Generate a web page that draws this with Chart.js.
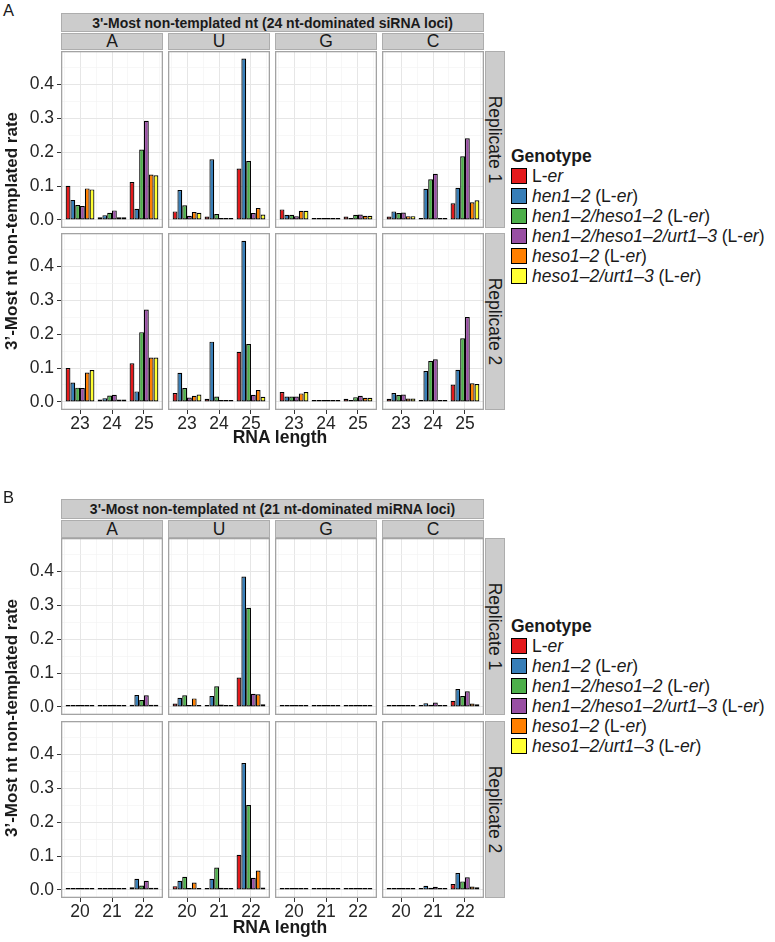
<!DOCTYPE html>
<html>
<head>
<meta charset="utf-8">
<script src="https://cdn.jsdelivr.net/npm/chart.js@4.4.1/dist/chart.umd.min.js"></script>
<style>
  body { margin: 0; background: #fff; font-family: 'Liberation Sans', Arial, sans-serif; color: #1a1a1a; }
  #page { position: relative; width: 775px; height: 942px; overflow: hidden; }
  #page canvas { position: absolute; }
  .strip { position: absolute; box-sizing: border-box; background: #cccccc; border: 1px solid #adadad;
           display: flex; align-items: center; justify-content: center; white-space: nowrap; }
  .strip span.rot { display: inline-block; transform: rotate(90deg); }
  .txt { position: absolute; white-space: nowrap; }
  .legend { position: absolute; font-size: 17.5px; }
  .legend .ttl { font-weight: bold; height: 20px; line-height: 20px; }
  .legend .row { display: flex; align-items: center; height: 20px; line-height: 20px; }
  .legend .key { width: 14px; height: 14px; border: 1.5px solid #000; margin-right: 5px; }
</style>
</head>
<body>
<div id="page"></div>
<script>
// ---- data ----
const genotypes = ['L-er', 'hen1-2 (L-er)', 'hen1-2/heso1-2 (L-er)', 'hen1-2/heso1-2/urt1-3 (L-er)', 'heso1-2 (L-er)', 'heso1-2/urt1-3 (L-er)'];
const genotypeHtml = [
  'L-<i>er</i>',
  '<i>hen1\u20132</i> (L-<i>er</i>)',
  '<i>hen1\u20132/heso1\u20132</i> (L-<i>er</i>)',
  '<i>hen1\u20132/heso1\u20132/urt1\u20133</i> (L-<i>er</i>)',
  '<i>heso1\u20132</i> (L-<i>er</i>)',
  '<i>heso1\u20132/urt1\u20133</i> (L-<i>er</i>)'
];
const genotypeColors = ['#E41A1C', '#377EB8', '#4DAF4A', '#984EA3', '#FF7F00', '#FFFF33'];
const nucleotides = ['A', 'U', 'G', 'C'];
const replicates = ['Replicate 1', 'Replicate 2'];
const siLengths = [23, 24, 25];
const miLengths = [20, 21, 22];
const yTicks = [0, 0.1, 0.2, 0.3, 0.4];
const yMinorTicks = [0.05, 0.15, 0.25, 0.35, 0.45];

// rows = genotypes (same order as above), columns = RNA lengths
// 24 nt-dominated siRNA loci
const siRep1A = [[0.101, 0.008, 0.112], [0.059, 0.014, 0.033], [0.044, 0.021, 0.208], [0.041, 0.028, 0.293], [0.093, 0.008, 0.134], [0.090, 0.008, 0.132]];
const siRep1U = [[0.025, 0.010, 0.152], [0.088, 0.179, 0.477], [0.043, 0.017, 0.174], [0.012, 0.004, 0.020], [0.023, 0.003, 0.035], [0.021, 0.003, 0.016]];
const siRep1G = [[0.031, 0.002, 0.010], [0.015, 0.002, 0.003], [0.015, 0.002, 0.015], [0.011, 0.002, 0.016], [0.027, 0.002, 0.012], [0.027, 0.002, 0.012]];
const siRep1C = [[0.010, 0.004, 0.049], [0.025, 0.092, 0.095], [0.020, 0.120, 0.188], [0.022, 0.136, 0.241], [0.011, 0.004, 0.052], [0.011, 0.004, 0.058]];
const siRep2A = [[0.100, 0.007, 0.114], [0.057, 0.011, 0.031], [0.042, 0.019, 0.206], [0.041, 0.021, 0.273], [0.087, 0.007, 0.131], [0.094, 0.007, 0.131]];
const siRep2U = [[0.026, 0.009, 0.148], [0.086, 0.178, 0.476], [0.041, 0.016, 0.171], [0.013, 0.003, 0.021], [0.018, 0.003, 0.035], [0.022, 0.003, 0.015]];
const siRep2G = [[0.029, 0.002, 0.009], [0.016, 0.002, 0.004], [0.016, 0.002, 0.014], [0.016, 0.002, 0.018], [0.025, 0.002, 0.012], [0.029, 0.002, 0.012]];
const siRep2C = [[0.009, 0.004, 0.051], [0.026, 0.091, 0.095], [0.020, 0.121, 0.188], [0.022, 0.126, 0.251], [0.010, 0.003, 0.055], [0.010, 0.003, 0.053]];
// 21 nt-dominated miRNA loci
const miRep1A = [[0.001, 0.001, 0.006], [0.002, 0.002, 0.035], [0.002, 0.003, 0.020], [0.004, 0.006, 0.034], [0.003, 0.002, 0.006], [0.001, 0.001, 0.006]];
const miRep1U = [[0.010, 0.002, 0.087], [0.027, 0.032, 0.385], [0.034, 0.061, 0.293], [0.001, 0.007, 0.039], [0.025, 0.003, 0.037], [0.002, 0.002, 0.008]];
const miRep1G = [[0.001, 0.001, 0.001], [0.001, 0.001, 0.002], [0.001, 0.001, 0.001], [0.001, 0.001, 0.002], [0.001, 0.001, 0.001], [0.001, 0.001, 0.001]];
const miRep1C = [[0.001, 0.001, 0.018], [0.001, 0.011, 0.053], [0.001, 0.006, 0.032], [0.001, 0.013, 0.046], [0.001, 0.001, 0.010], [0.001, 0.001, 0.008]];
const miRep2A = [[0.002, 0.002, 0.008], [0.002, 0.002, 0.033], [0.002, 0.002, 0.013], [0.002, 0.003, 0.027], [0.002, 0.002, 0.006], [0.001, 0.001, 0.006]];
const miRep2U = [[0.011, 0.003, 0.104], [0.027, 0.033, 0.375], [0.039, 0.066, 0.251], [0.003, 0.006, 0.036], [0.022, 0.003, 0.057], [0.003, 0.002, 0.007]];
const miRep2G = [[0.001, 0.001, 0.001], [0.001, 0.001, 0.002], [0.001, 0.001, 0.001], [0.001, 0.001, 0.002], [0.001, 0.001, 0.001], [0.001, 0.001, 0.001]];
const miRep2C = [[0.001, 0.002, 0.017], [0.001, 0.012, 0.050], [0.001, 0.006, 0.025], [0.001, 0.009, 0.037], [0.001, 0.001, 0.010], [0.001, 0.001, 0.008]];

// ---- layout ----
Chart.defaults.font.family = "'Liberation Sans', Arial, sans-serif";
Chart.defaults.color = '#262626';

const colLeft = [61, 168, 275, 382];
const colW = 102;
const rowH = 177;
const yAxisW = 61;
const xAxisH = 26;
const yMin = -0.024, yMax = 0.499;

const panels = [
  { tag: 'A', tagTop: 2, title: "3'-Most non-templated nt (24 nt-dominated siRNA loci)",
    stripTop: 13, stripH: 19, colStripTop: 33, colStripH: 17, rowTops: [51, 233],
    xTitleY: 437, legendTop: 146, lengths: siLengths,
    values: [[siRep1A, siRep1U, siRep1G, siRep1C], [siRep2A, siRep2U, siRep2G, siRep2C]] },
  { tag: 'B', tagTop: 489, title: "3'-Most non-templated nt (21 nt-dominated miRNA loci)",
    stripTop: 499, stripH: 20, colStripTop: 520, colStripH: 18, rowTops: [538, 721],
    xTitleY: 927, legendTop: 616, lengths: miLengths,
    values: [[miRep1A, miRep1U, miRep1G, miRep1C], [miRep2A, miRep2U, miRep2G, miRep2C]] }
];

const panelBorder = {
  id: 'panelBorder',
  afterDraw(chart) {
    const { ctx, chartArea: a } = chart;
    ctx.save();
    ctx.strokeStyle = '#a3a3a3';
    ctx.lineWidth = 1.3;
    ctx.strokeRect(a.left + 0.65, a.top + 0.65, a.width - 1.3, a.height - 1.3);
    ctx.restore();
  }
};

const page = document.getElementById('page');

function addDiv(cls, style, html) {
  const d = document.createElement('div');
  d.className = cls;
  Object.assign(d.style, style);
  d.innerHTML = html;
  page.appendChild(d);
  return d;
}

function makeCell(vals, lengths, left, top, width, height, yw, xh) {
  const cv = document.createElement('canvas');
  cv.width = width;
  cv.height = height;
  cv.style.left = left + 'px';
  cv.style.top = top + 'px';
  page.appendChild(cv);

  const last = lengths[lengths.length - 1];
  const xMin = lengths[0] - 0.595, xMax = last + 0.595;
  const xMinorTicks = lengths.map(v => v - 0.5).concat([last + 0.5]);

  new Chart(cv, {
    type: 'bar',
    data: {
      datasets: genotypes.map((g, i) => ({
        label: g,
        data: lengths.map((len, j) => ({ x: len, y: vals[i][j] })),
        backgroundColor: genotypeColors[i],
        borderColor: '#000',
        borderWidth: 1.2,
        borderSkipped: false,
        categoryPercentage: 0.9,
        barPercentage: 1,
        minBarLength: 2
      }))
    },
    options: {
      responsive: false,
      animation: false,
      events: [],
      layout: { padding: 0 },
      plugins: { legend: { display: false }, tooltip: { enabled: false } },
      scales: {
        x: {
          type: 'linear', min: xMin, max: xMax, offset: false,
          afterBuildTicks: s => { s.ticks = lengths.map(v => ({ value: v })); },
          afterFit: s => { s.height = xh; s.paddingLeft = 0; s.paddingRight = 0; },
          ticks: { display: xh > 0, font: { size: 17.5 }, padding: 0, maxRotation: 0, autoSkip: false, callback: v => String(v) },
          grid: { offset: false, color: '#e6e6e6', lineWidth: 1, drawTicks: xh > 0, tickLength: 4, tickColor: '#333' },
          border: { display: false }
        },
        xMinor: {
          type: 'linear', axis: 'x', position: 'bottom', min: xMin, max: xMax, offset: false,
          afterBuildTicks: s => { s.ticks = xMinorTicks.map(v => ({ value: v })); },
          afterFit: s => { s.height = 0; s.paddingLeft = 0; s.paddingRight = 0; },
          ticks: { display: false },
          grid: { offset: false, color: '#f1f1f1', lineWidth: 0.6, drawTicks: false },
          border: { display: false }
        },
        y: {
          type: 'linear', min: yMin, max: yMax,
          afterBuildTicks: s => { s.ticks = yTicks.map(v => ({ value: v })); },
          afterFit: s => { s.width = yw; s.paddingTop = 0; s.paddingBottom = 0; },
          ticks: { display: yw > 0, font: { size: 17.5 }, padding: 3, callback: v => v.toFixed(1) },
          grid: { color: '#e6e6e6', lineWidth: 1, drawTicks: yw > 0, tickLength: 4, tickColor: '#333' },
          border: { display: false }
        },
        yMinor: {
          type: 'linear', axis: 'y', position: 'left', min: yMin, max: yMax,
          afterBuildTicks: s => { s.ticks = yMinorTicks.map(v => ({ value: v })); },
          afterFit: s => { s.width = 0; s.paddingTop = 0; s.paddingBottom = 0; },
          ticks: { display: false },
          grid: { color: '#f1f1f1', lineWidth: 0.6, drawTicks: false },
          border: { display: false }
        }
      }
    },
    plugins: [panelBorder]
  });
}

panels.forEach(p => {
  addDiv('txt', { left: '3px', top: p.tagTop + 'px', fontSize: '16.5px', lineHeight: '16px' }, p.tag);

  // facet strips
  const right = colLeft[3] + colW;
  addDiv('strip', { left: colLeft[0] + 'px', top: p.stripTop + 'px', width: (right - colLeft[0]) + 'px', height: p.stripH + 'px',
    fontSize: '14px', fontWeight: 'bold' }, p.title);
  nucleotides.forEach((n, c) => {
    addDiv('strip', { left: colLeft[c] + 'px', top: p.colStripTop + 'px', width: colW + 'px', height: p.colStripH + 'px',
      fontSize: '17.5px' }, n);
  });
  replicates.forEach((r, ri) => {
    addDiv('strip', { left: (right + 1) + 'px', top: p.rowTops[ri] + 'px', width: '20px', height: rowH + 'px',
      fontSize: '17.5px' }, '<span class="rot">' + r + '</span>');
  });

  // panels
  p.rowTops.forEach((rt, ri) => {
    nucleotides.forEach((n, c) => {
      const yw = c === 0 ? yAxisW : 0;
      const xh = ri === p.rowTops.length - 1 ? xAxisH : 0;
      makeCell(p.values[ri][c], p.lengths, colLeft[c] - yw, rt, colW + yw, rowH + xh, yw, xh);
    });
  });

  // axis titles
  const midY = (p.rowTops[0] + p.rowTops[1] + rowH) / 2;
  addDiv('txt', { left: '12px', top: midY + 'px', fontSize: '17px', fontWeight: 'bold', lineHeight: '20px',
    transform: 'translate(-50%, -50%) rotate(-90deg)' }, '3\u2019-Most nt non-templated rate');
  addDiv('txt', { left: '280px', top: p.xTitleY + 'px', fontSize: '17.5px', fontWeight: 'bold', lineHeight: '20px',
    transform: 'translate(-50%, -50%)' }, 'RNA length');

  // legend
  const lg = addDiv('legend', { left: '511px', top: p.legendTop + 'px' }, '<div class="ttl">Genotype</div>');
  genotypeHtml.forEach((h, i) => {
    const row = document.createElement('div');
    row.className = 'row';
    row.innerHTML = '<span class="key" style="background:' + genotypeColors[i] + '"></span><span>' + h + '</span>';
    lg.appendChild(row);
  });
});
</script>
</body>
</html>
